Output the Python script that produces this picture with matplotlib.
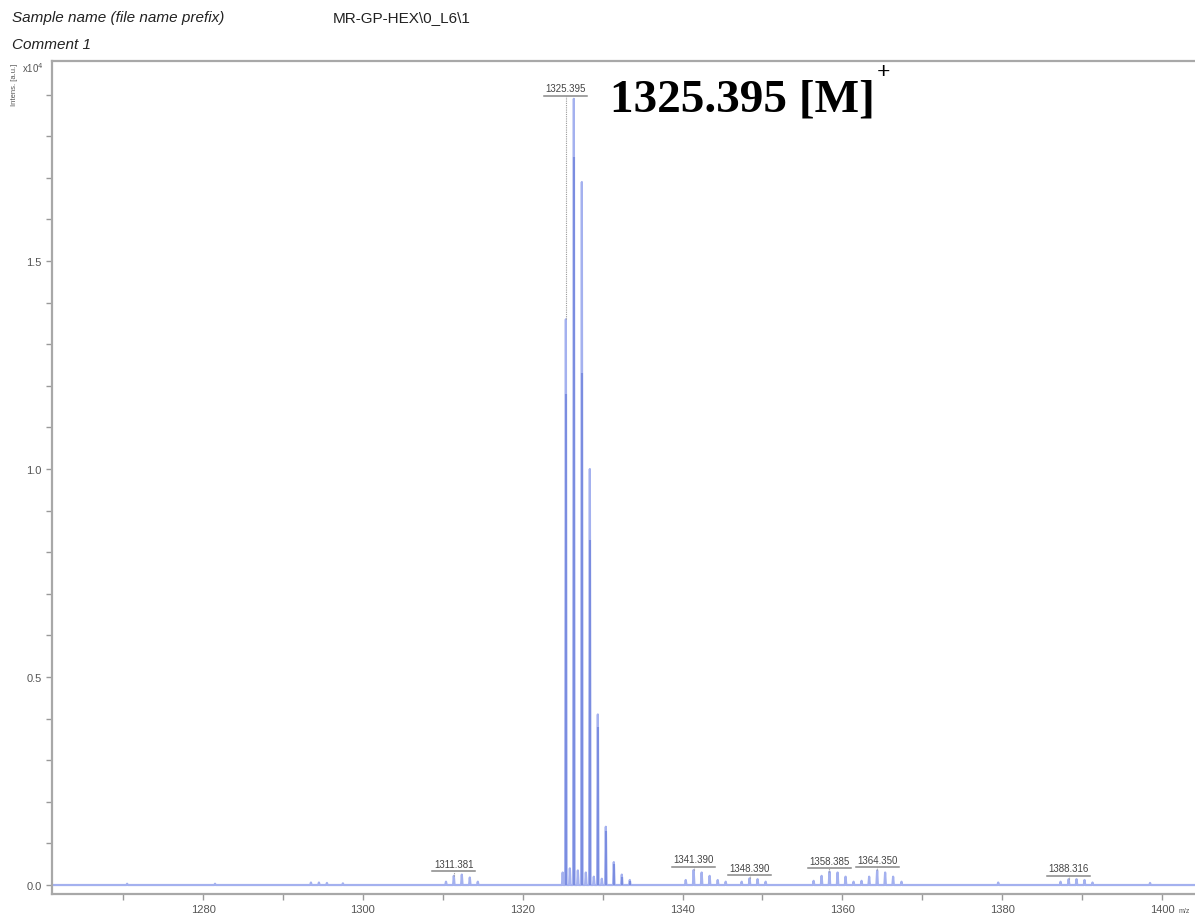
import matplotlib
matplotlib.use("Agg")
import matplotlib.pyplot as plt
import numpy as np

# main isotope cluster: apex of the profile and the lower sampled value
main_mz = [1325.40, 1326.40, 1327.40, 1328.40, 1329.40, 1330.40, 1331.40, 1332.40, 1333.40]
main_apex = [1.36, 1.89, 1.69, 1.00, 0.41, 0.14, 0.055, 0.025, 0.012]
main_sampled = [1.18, 1.75, 1.23, 0.83, 0.38, 0.13, 0.05, 0.02, 0.01]

# small signals (m/z, intensity x10^4)
minor_mz = [1270.5, 1281.5, 1293.5, 1294.5, 1295.5, 1297.5,
            1310.4, 1311.38, 1312.38, 1313.38, 1314.38,
            1325.0, 1325.9, 1326.9, 1327.9, 1328.9, 1329.9,
            1340.4, 1341.39, 1342.39, 1343.39, 1344.4, 1345.4,
            1347.4, 1348.39, 1349.39, 1350.4,
            1356.4, 1357.4, 1358.385, 1359.4, 1360.4, 1361.4,
            1362.4, 1363.35, 1364.35, 1365.35, 1366.35, 1367.4,
            1379.5, 1387.3, 1388.316, 1389.3, 1390.3, 1391.3, 1398.5]
minor_int = [0.003, 0.003, 0.006, 0.006, 0.005, 0.004,
             0.008, 0.022, 0.025, 0.018, 0.008,
             0.03, 0.04, 0.035, 0.03, 0.02, 0.015,
             0.012, 0.036, 0.03, 0.022, 0.012, 0.008,
             0.008, 0.016, 0.014, 0.008,
             0.01, 0.022, 0.032, 0.03, 0.02, 0.008,
             0.01, 0.02, 0.035, 0.03, 0.02, 0.008,
             0.006, 0.008, 0.014, 0.014, 0.012, 0.006, 0.005]

# annotated peaks
label_mz = [1311.381, 1325.395, 1341.390, 1348.390, 1358.385, 1364.350, 1388.316]
label_int = [0.022, 1.36, 0.036, 0.016, 0.032, 0.035, 0.014]
label_top = [0.025, 1.89, 0.036, 0.016, 0.032, 0.035, 0.014]

xticks = [1280, 1300, 1320, 1340, 1360, 1380, 1400]
yticks = [0.0, 0.5, 1.0, 1.5]

fig = plt.figure(figsize=(11.95, 9.2), dpi=100)
ax = fig.add_axes([52 / 1195, 25 / 920, 1150 / 1195, 833 / 920])

# profile spectrum built from the peak list
peaks = sorted(zip(main_mz + minor_mz, main_apex + minor_int))
px, py = [1261.0], [0.0]
for m, h in peaks:
    px += [m - 0.09, m, m + 0.09]
    py += [0.0, h, 0.0]
px.append(1406.0)
py.append(0.0)
ax.plot(px, py, color="#a4b1ef", lw=1.6, zorder=2)
ax.vlines(main_mz, 0, main_sampled, color="#7b8de0", lw=1.5, zorder=3)
ax.plot([1261, 1406], [0, 0], color="#8796e4", lw=0.7, zorder=1)

# peak labels with bar and drop line
for m, h, top in zip(label_mz, label_int, label_top):
    bar = top + 0.008
    ax.plot([m - 2.7, m + 2.7], [bar, bar], color="#888888", lw=1.1, zorder=4)
    ax.plot([m, m], [h, bar], color="#999999", lw=0.8,
            ls=(0, (1, 1)), zorder=4)
    ax.text(m, bar + 0.006, f"{m:.3f}", ha="center", va="bottom",
            fontsize=7, color="#444444", family="Liberation Sans")

ax.set_xlim(1261.1, 1405.0)
ax.set_ylim(-0.0216, 1.981)
ax.set_xticks(xticks)
ax.set_xticks(np.arange(1270, 1405, 20), minor=True)
ax.set_yticks(yticks)
ax.set_yticks(np.arange(0.1, 1.95, 0.1), minor=True)
ax.set_yticklabels([f"{v:.1f}" for v in yticks])

for s in ["left", "bottom", "top"]:
    ax.spines[s].set_color("#a8a8a8")
    ax.spines[s].set_linewidth(1.6)
ax.spines["right"].set_visible(False)
ax.tick_params(which="both", direction="out", colors="#999999",
               labelcolor="#555555", labelsize=8, width=1.0)
ax.tick_params(which="major", length=4)
ax.tick_params(which="minor", length=4)
for t in ax.get_xticklabels() + ax.get_yticklabels():
    t.set_family("Liberation Sans")

# header lines
fig.text(12 / 1195, 1 - 18 / 920, "Sample name (file name prefix)", fontsize=11,
         style="italic", family="Liberation Sans", va="center", color="#222222")
fig.text(333 / 1195, 1 - 18 / 920, "MR-GP-HEX\\0_L6\\1", fontsize=11,
         family="Liberation Sans", va="center", color="#222222")
fig.text(12 / 1195, 1 - 45 / 920, "Comment 1", fontsize=11,
         style="italic", family="Liberation Sans", va="center", color="#222222")

# axis captions
fig.text(15 / 1195, 1 - 85 / 920, "Intens. [a.u.]", rotation=90, fontsize=5.5,
         family="Liberation Sans", ha="center", va="center", color="#555555")
fig.text(22 / 1195, 1 - 68 / 920, "x10$^4$", fontsize=7,
         family="Liberation Sans", va="center", color="#555555")
fig.text(1190 / 1195, 1 - 912 / 920, "m/z", fontsize=5,
         family="Liberation Sans", ha="right", va="center", color="#555555")

# molecular ion annotation
fig.text(610 / 1195, 1 - 112 / 920, "1325.395 [M]", fontsize=34,
         weight="bold", family="Liberation Serif", va="baseline", color="black")
fig.text(877 / 1195, 1 - 73 / 920, "+", fontsize=17, weight="bold",
         family="Liberation Serif", va="center", color="black")

fig.savefig("out.png", dpi=100)
